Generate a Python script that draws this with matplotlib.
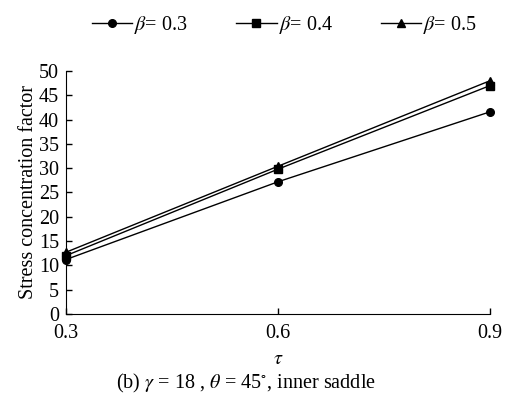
import matplotlib.pyplot as plt

plt.rcParams["font.family"] = ["Liberation Serif", "DejaVu Serif"]
plt.rcParams["mathtext.fontset"] = "stix"

tau = [0.3, 0.6, 0.9]
scf_b03 = [11.2, 27.2, 41.6]
scf_b04 = [12.0, 29.8, 47.0]
scf_b05 = [12.7, 30.4, 48.0]

series = [
    (scf_b03, "o", r"$\beta$= 0.3"),
    (scf_b04, "s", r"$\beta$= 0.4"),
    (scf_b05, "^", r"$\beta$= 0.5"),
]

fs = 14.5

fig = plt.figure(figsize=(5.08, 4.03), dpi=100)
ax = fig.add_axes([0.130, 0.221, 0.835, 0.603])

for vals, mk, lab in series:
    ax.plot(tau, vals, color="black", lw=1.0, marker=mk, markersize=5.5,
            label=lab, clip_on=False)

ax.set_xlim(0.3, 0.9)
ax.set_ylim(0, 50)
ax.set_xticks(tau)
ax.set_xticklabels(["0.3", "0.6", "0.9"])
ax.set_yticks(range(0, 51, 5))
ax.tick_params(direction="in", length=4.5, width=1, labelsize=fs)
ax.tick_params(axis="y", pad=5)
ax.tick_params(axis="x", pad=7)
ax.spines["top"].set_visible(False)
ax.spines["right"].set_visible(False)
ax.set_ylabel("Stress concentration factor", fontsize=fs, labelpad=1)
ax.set_xlabel(r"$\tau$", fontsize=fs, labelpad=5)

fig.legend(loc="upper center", bbox_to_anchor=(0.56, 1.01), ncol=3, frameon=False,
           fontsize=fs, handlelength=2.0, handletextpad=0.1, columnspacing=2.4)
fig.text(0.485, 0.048, r"(b) $\gamma$ = 18 , $\theta$ = 45$^{\circ}$, inner saddle",
         ha="center", va="center", fontsize=fs)

fig.savefig("out.png", dpi=100)
